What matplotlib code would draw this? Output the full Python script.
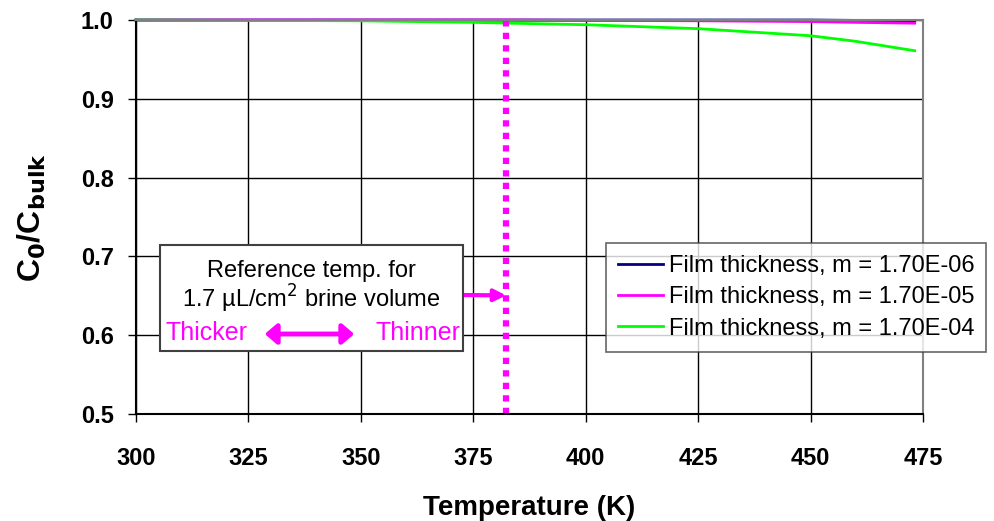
import matplotlib
matplotlib.use("Agg")
import matplotlib.pyplot as plt

plt.rcParams["font.family"] = ["Liberation Sans", "DejaVu Sans"]

# temperature grid (K) and normalised concentration for three film thicknesses
temp = [300, 325, 350, 375, 383, 400, 425, 450, 460, 473.15]
c_thin = [1.0, 1.0, 1.0, 1.0, 1.0, 1.0, 1.0, 1.0, 0.9995, 0.999]
c_mid = [1.0, 1.0, 1.0, 1.0, 1.0, 0.9995, 0.999, 0.998, 0.997, 0.996]
c_thick = [1.0, 0.9995, 0.999, 0.997, 0.996, 0.994, 0.989, 0.980, 0.973, 0.961]
labels = ["Film thickness, m = 1.70E-06",
          "Film thickness, m = 1.70E-05",
          "Film thickness, m = 1.70E-04"]
colors = ["#000080", "#FF00FF", "#00FF00"]
ref_temp = 382.3

fig = plt.figure(figsize=(9.94, 5.21), dpi=100)
ax = fig.add_axes([136 / 994, 1 - 414 / 521, (923 - 136) / 994, (414 - 20) / 521])

for y, lab, col in zip([c_thin, c_mid, c_thick], labels, colors):
    ax.plot(temp, y, color=col, lw=2, label=lab, clip_on=False)

ax.axvline(ref_temp, color="#FF00FF", lw=4.5, ls=(0, (1, 1)))

ax.set_xlim(300, 475)
ax.set_ylim(0.5, 1.0)
ax.set_xticks(range(300, 476, 25))
ax.set_yticks([0.5, 0.6, 0.7, 0.8, 0.9, 1.0])
ax.yaxis.set_major_formatter(matplotlib.ticker.FormatStrFormatter("%.1f"))
ax.grid(True, color="black", lw=1)
ax.set_axisbelow(True)
for s in ax.spines.values():
    s.set_color("#808080")
    s.set_linewidth(1.5)
ax.spines["left"].set_color("black")
ax.spines["bottom"].set_color("black")
ax.tick_params(axis="both", labelsize=17, length=6, width=1, direction="out")
ax.tick_params(axis="y", pad=10)
ax.tick_params(axis="x", pad=18)
for t in ax.get_xticklabels() + ax.get_yticklabels():
    t.set_fontweight("bold")

ax.set_xlabel("Temperature (K)", fontsize=20, fontweight="bold", labelpad=18)
ax.set_ylabel(r"C$_\mathbf{0}$/C$_\mathbf{bulk}$", fontsize=23, fontweight="bold", labelpad=24)

# annotation box with the reference-temperature note
box = matplotlib.patches.Rectangle((160 / 994, 1 - 351 / 521), 303 / 994, 106 / 521,
                                   transform=fig.transFigure, facecolor="white",
                                   edgecolor="#404040", lw=1.5, zorder=5)
fig.patches.append(box)
fig.text(311 / 994, 1 - 271 / 521, "Reference temp. for", ha="center", va="center",
         fontsize=17, zorder=6)
fig.text(311 / 994, 1 - 299 / 521, "1.7 µL/cm$^2$ brine volume", ha="center", va="center",
         fontsize=17, zorder=6)
fig.text(166 / 994, 1 - 333 / 521, "Thicker", ha="left", va="center", fontsize=18,
         color="#FF00FF", zorder=6)
fig.text(460 / 994, 1 - 333 / 521, "Thinner", ha="right", va="center", fontsize=18,
         color="#FF00FF", zorder=6)
fig.patches.append(matplotlib.patches.FancyArrowPatch(
    (262 / 994, 1 - 334 / 521), (357 / 994, 1 - 334 / 521), transform=fig.transFigure,
    arrowstyle="<|-|>,head_length=7,head_width=6", color="#FF00FF", lw=3.5, zorder=6))
ax.annotate("", xy=(ref_temp, 0.6505), xytext=(463 / 994, 1 - 295 / 521),
            textcoords="figure fraction",
            arrowprops=dict(arrowstyle="-|>,head_length=0.7,head_width=0.35",
                            color="#FF00FF", lw=3, shrinkA=0, shrinkB=0))

leg = fig.legend(loc="upper left", bbox_to_anchor=(606 / 994, 1 - 243 / 521),
                 fontsize=17, frameon=True, fancybox=False, edgecolor="#404040",
                 handlelength=1.9, handletextpad=0.25, borderpad=0.5, labelspacing=0.4,
                 borderaxespad=0)
leg.get_frame().set_linewidth(1.2)

fig.savefig("out.png", dpi=100)
